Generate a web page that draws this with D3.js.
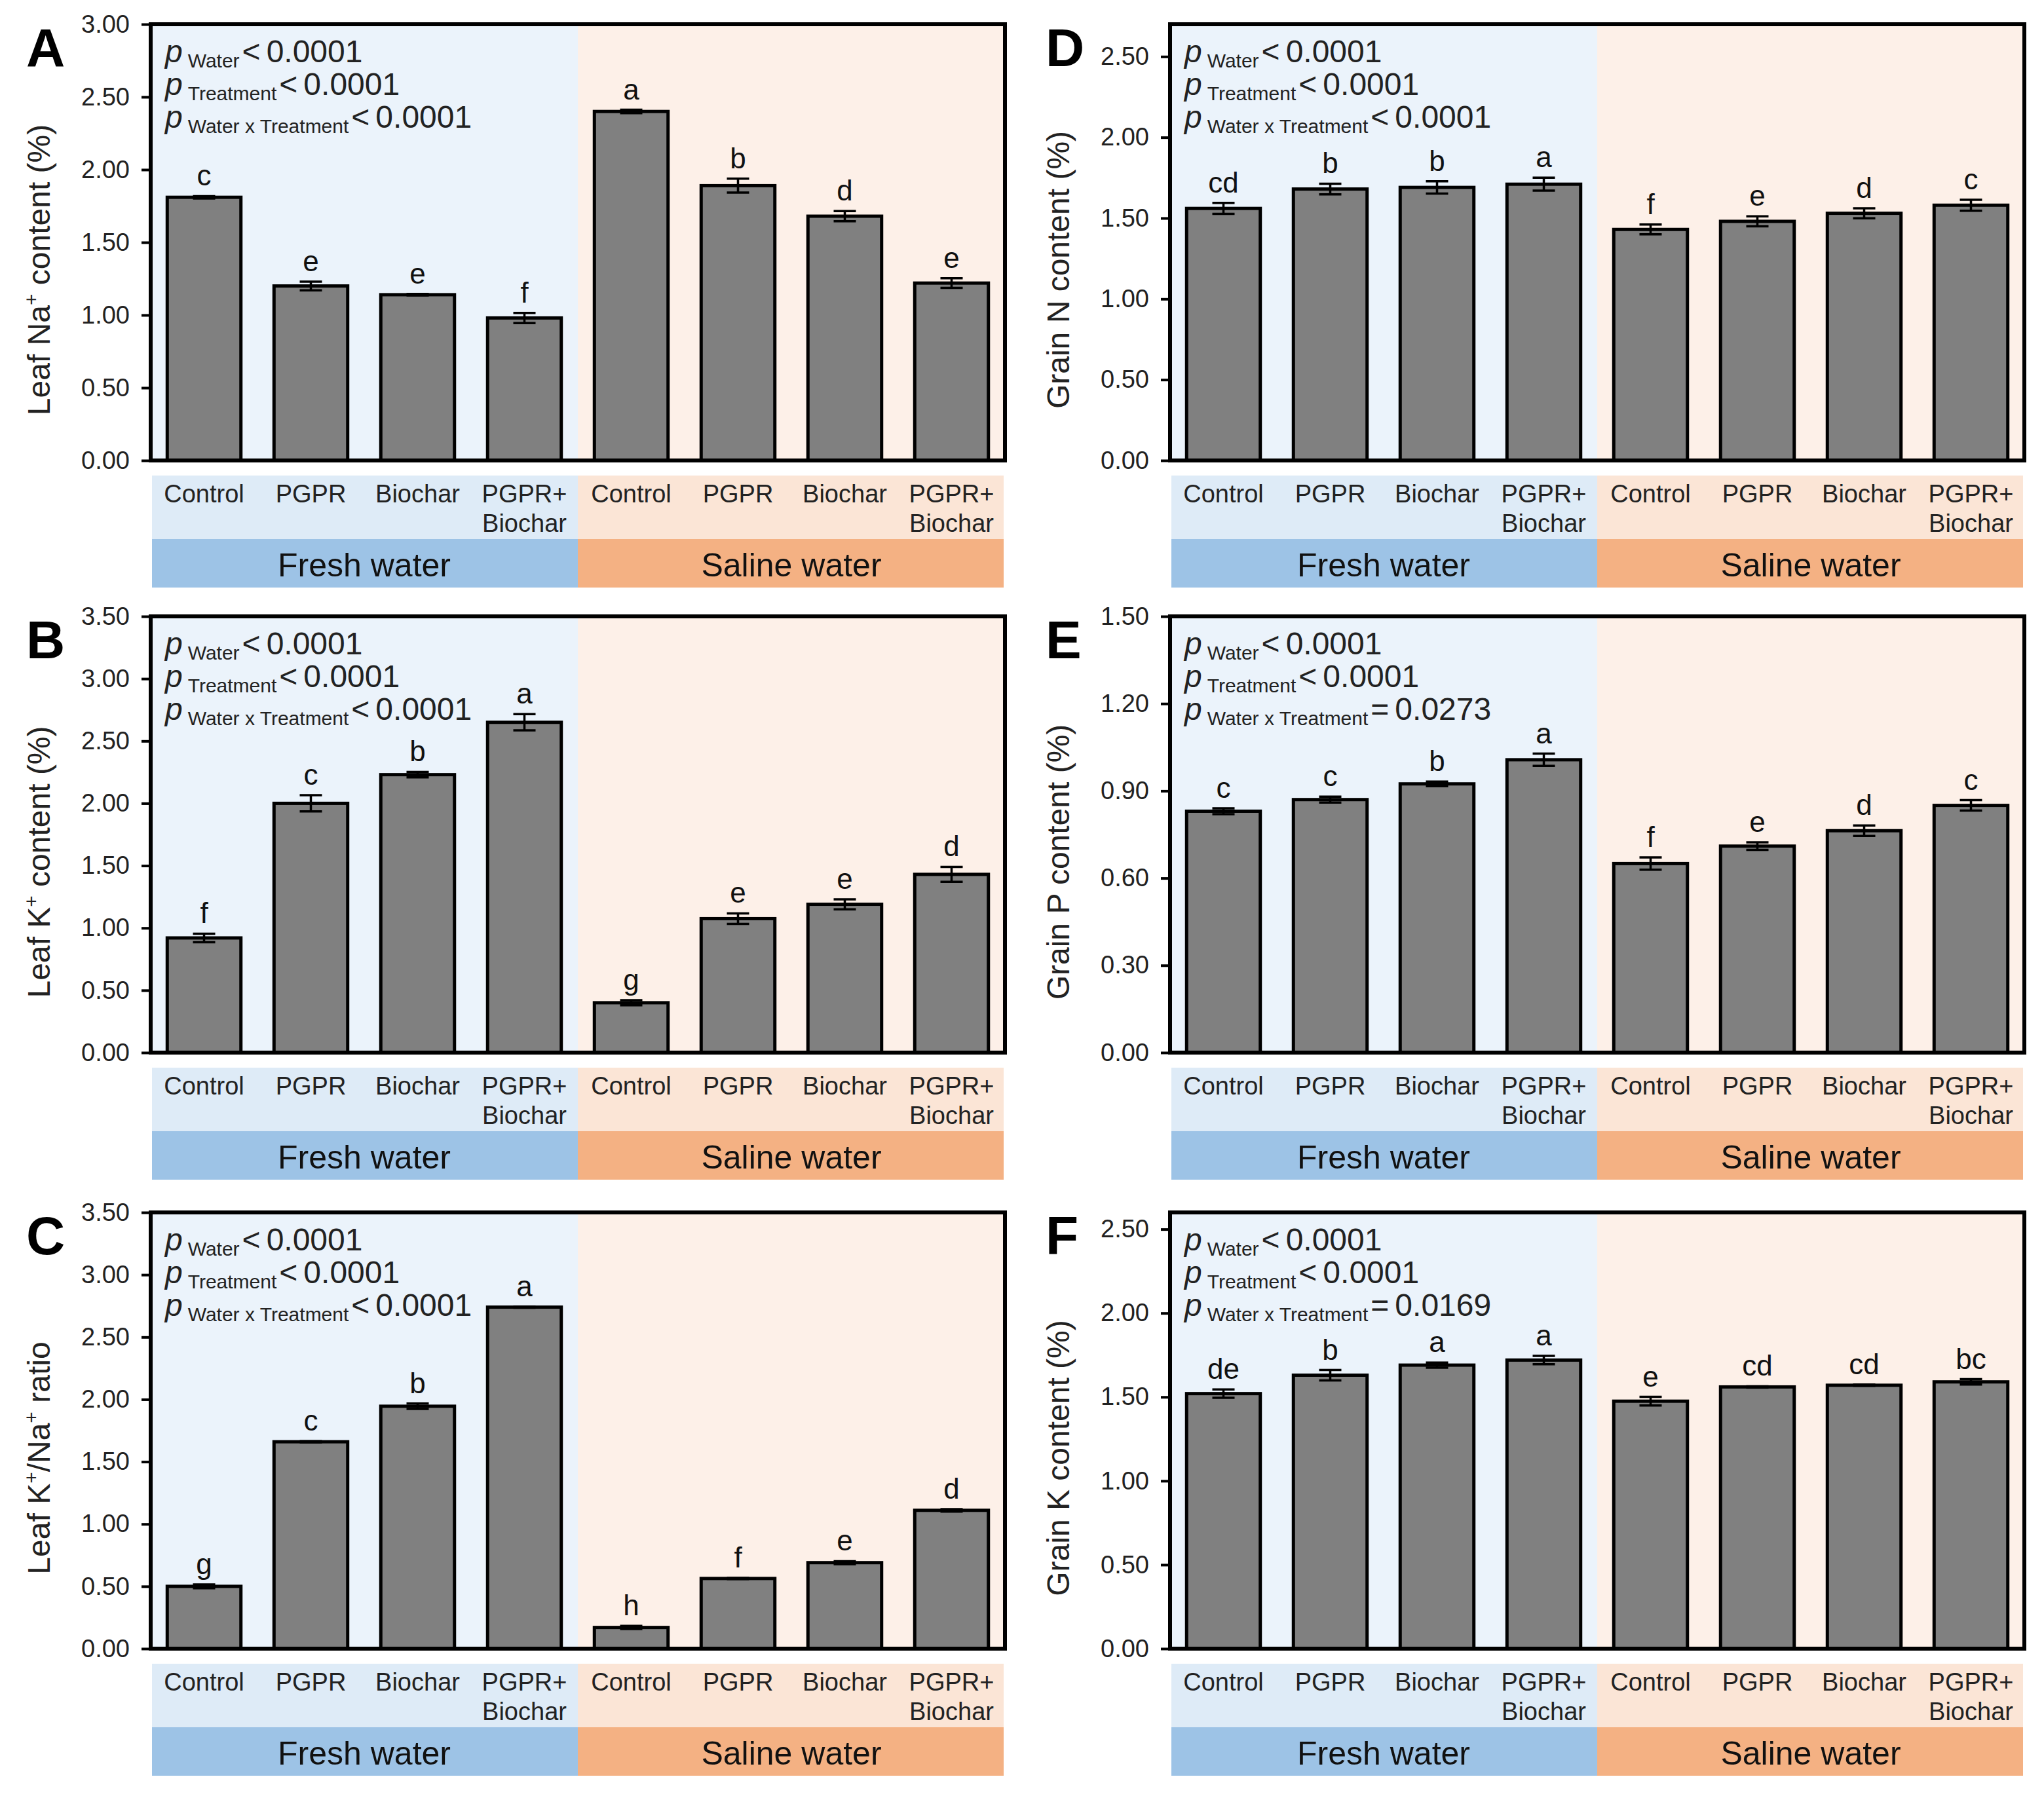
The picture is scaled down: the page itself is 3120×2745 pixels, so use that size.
<!DOCTYPE html>
<html><head><meta charset="utf-8">
<script src="https://cdn.jsdelivr.net/npm/d3@7/dist/d3.min.js"></script>
<style>body{margin:0;background:#fff} svg{display:block}</style>
</head><body>
<svg id="chart" width="3120" height="2745"></svg>
<script>
// ---------- data ----------
const treatments = ["Control", "PGPR", "Biochar", "PGPR+Biochar"];
const waterTypes = ["Fresh water", "Saline water"];
const barKeys = ["F-Control", "F-PGPR", "F-Biochar", "F-PGPR+Biochar",
                 "S-Control", "S-PGPR", "S-Biochar", "S-PGPR+Biochar"];

const leafNaValues  = [1.81, 1.20, 1.14, 0.98, 2.40, 1.89, 1.68, 1.22];
const leafNaErrors  = [0.008, 0.03, 0.005, 0.035, 0.012, 0.048, 0.035, 0.033];
const leafNaLetters = ["c", "e", "e", "f", "a", "b", "d", "e"];
const leafNaTicks   = [0, 0.5, 1.0, 1.5, 2.0, 2.5, 3.0];

const leafKValues  = [0.92, 2.00, 2.23, 2.65, 0.40, 1.075, 1.19, 1.43];
const leafKErrors  = [0.034, 0.065, 0.022, 0.065, 0.02, 0.042, 0.04, 0.06];
const leafKLetters = ["f", "c", "b", "a", "g", "e", "e", "d"];
const leafKTicks   = [0, 0.5, 1.0, 1.5, 2.0, 2.5, 3.0, 3.5];

const ratioValues  = [0.50, 1.66, 1.945, 2.74, 0.17, 0.563, 0.69, 1.11];
const ratioErrors  = [0.015, 0.004, 0.022, 0.004, 0.012, 0.004, 0.012, 0.01];
const ratioLetters = ["g", "c", "b", "a", "h", "f", "e", "d"];
const ratioTicks   = [0, 0.5, 1.0, 1.5, 2.0, 2.5, 3.0, 3.5];

const grainNValues  = [1.56, 1.68, 1.69, 1.71, 1.43, 1.48, 1.53, 1.58];
const grainNErrors  = [0.034, 0.033, 0.038, 0.04, 0.03, 0.031, 0.031, 0.034];
const grainNLetters = ["cd", "b", "b", "a", "f", "e", "d", "c"];
const grainNTicks   = [0, 0.5, 1.0, 1.5, 2.0, 2.5];

const grainPValues  = [0.83, 0.87, 0.924, 1.007, 0.65, 0.71, 0.763, 0.85];
const grainPErrors  = [0.01, 0.01, 0.008, 0.021, 0.021, 0.013, 0.018, 0.018];
const grainPLetters = ["c", "c", "b", "a", "f", "e", "d", "c"];
const grainPTicks   = [0, 0.3, 0.6, 0.9, 1.2, 1.5];

const grainKValues  = [1.52, 1.63, 1.69, 1.72, 1.475, 1.56, 1.57, 1.59];
const grainKErrors  = [0.025, 0.031, 0.015, 0.025, 0.026, 0.004, 0.004, 0.016];
const grainKLetters = ["de", "b", "a", "a", "e", "cd", "cd", "bc"];
const grainKTicks   = [0, 0.5, 1.0, 1.5, 2.0, 2.5];

const pLabels = ["Water", "Treatment", "Water x Treatment"];
const pLeafNa = ["< 0.0001", "< 0.0001", "< 0.0001"];
const pLeafK  = ["< 0.0001", "< 0.0001", "< 0.0001"];
const pRatio  = ["< 0.0001", "< 0.0001", "< 0.0001"];
const pGrainN = ["< 0.0001", "< 0.0001", "< 0.0001"];
const pGrainP = ["< 0.0001", "< 0.0001", "= 0.0273"];
const pGrainK = ["< 0.0001", "< 0.0001", "= 0.0169"];

const panels = [
  {id: "A", col: 0, row: 0, title: [["Leaf Na"], ["+", "sup"], [" content (%)"]], max: 3.0, ticks: leafNaTicks, values: leafNaValues, errors: leafNaErrors, letters: leafNaLetters, p: pLeafNa},
  {id: "B", col: 0, row: 1, title: [["Leaf K"], ["+", "sup"], [" content (%)"]], max: 3.5, ticks: leafKTicks, values: leafKValues, errors: leafKErrors, letters: leafKLetters, p: pLeafK},
  {id: "C", col: 0, row: 2, title: [["Leaf K"], ["+", "sup"], ["/Na"], ["+", "sup"], [" ratio"]], max: 3.5, ticks: ratioTicks, values: ratioValues, errors: ratioErrors, letters: ratioLetters, p: pRatio},
  {id: "D", col: 1, row: 0, title: [["Grain N content (%)"]], max: 2.7, ticks: grainNTicks, values: grainNValues, errors: grainNErrors, letters: grainNLetters, p: pGrainN},
  {id: "E", col: 1, row: 1, title: [["Grain P content (%)"]], max: 1.5, ticks: grainPTicks, values: grainPValues, errors: grainPErrors, letters: grainPLetters, p: pGrainP},
  {id: "F", col: 1, row: 2, title: [["Grain K content (%)"]], max: 2.6, ticks: grainKTicks, values: grainKValues, errors: grainKErrors, letters: grainKLetters, p: pGrainK}
];

// ---------- layout & style ----------
const FONT = "'Liberation Sans', Arial, Helvetica, sans-serif";
const colX = [230, 1786];
const rowTop = [37, 941, 1851];
const plotW = 1304, plotH = 666;
const C = {
  freshBg: "#EBF3FB", salineBg: "#FDF0E8",
  freshBand: "#DEEBF7", salineBand: "#FBE5D6",
  freshGroup: "#9DC3E6", salineGroup: "#F4B183",
  bar: "#808080"
};

const svg = d3.select("#chart");
svg.append("rect").attr("width", 3120).attr("height", 2745).attr("fill", "#fff");

panels.forEach(P => {
  const g = svg.append("g").attr("transform", `translate(${colX[P.col]},${rowTop[P.row]})`)
    .style("font-family", FONT);
  const x = d3.scaleBand().domain(barKeys).range([0, plotW]).paddingInner(0.31).paddingOuter(0.155);
  const y = d3.scaleLinear().domain([0, P.max]).range([plotH, 0]);
  const split = (x(barKeys[3]) + x.bandwidth() + x(barKeys[4])) / 2;

  // plot backgrounds
  g.append("rect").attr("x", 0).attr("y", 0).attr("width", split).attr("height", plotH).attr("fill", C.freshBg);
  g.append("rect").attr("x", split).attr("y", 0).attr("width", plotW - split).attr("height", plotH).attr("fill", C.salineBg);

  // category bands
  const bandTop = plotH + 23, bandMid = plotH + 120, bandBot = plotH + 194;
  g.append("rect").attr("x", 2).attr("y", bandTop).attr("width", split - 2).attr("height", bandMid - bandTop).attr("fill", C.freshBand);
  g.append("rect").attr("x", split).attr("y", bandTop).attr("width", plotW - split - 2).attr("height", bandMid - bandTop).attr("fill", C.salineBand);
  g.append("rect").attr("x", 2).attr("y", bandMid).attr("width", split - 2).attr("height", bandBot - bandMid).attr("fill", C.freshGroup);
  g.append("rect").attr("x", split).attr("y", bandMid).attr("width", plotW - split - 2).attr("height", bandBot - bandMid).attr("fill", C.salineGroup);

  // category labels
  barKeys.forEach((k, i) => {
    const t = treatments[i % 4];
    const cx = x(k) + x.bandwidth() / 2;
    const lines = t === "PGPR+Biochar" ? ["PGPR+", "Biochar"] : [t];
    lines.forEach((ln, j) => {
      g.append("text").attr("x", cx).attr("y", plotH + 64 + j * 45)
        .attr("text-anchor", "middle").attr("font-size", 38).attr("fill", "#222").text(ln);
    });
  });
  // group labels
  [[0, split], [split, plotW]].forEach((r, i) => {
    g.append("text").attr("x", (r[0] + r[1]) / 2).attr("y", plotH + 177)
      .attr("text-anchor", "middle").attr("font-size", 50).attr("fill", "#111").text(waterTypes[i]);
  });

  // bars
  g.selectAll("rect.bar").data(P.values).join("rect").attr("class", "bar")
    .attr("x", (d, i) => x(barKeys[i])).attr("y", d => y(d))
    .attr("width", x.bandwidth()).attr("height", d => plotH - y(d))
    .attr("fill", C.bar).attr("stroke", "#000").attr("stroke-width", 5);

  // error bars
  P.values.forEach((v, i) => {
    const cx = x(barKeys[i]) + x.bandwidth() / 2;
    const e = P.errors[i];
    const eg = g.append("g").attr("stroke", "#000").attr("stroke-width", 3.5);
    eg.append("line").attr("x1", cx).attr("x2", cx).attr("y1", y(v - e)).attr("y2", y(v + e));
    eg.append("line").attr("x1", cx - 17).attr("x2", cx + 17).attr("y1", y(v - e)).attr("y2", y(v - e));
    eg.append("line").attr("x1", cx - 17).attr("x2", cx + 17).attr("y1", y(v + e)).attr("y2", y(v + e));
    g.append("text").attr("x", cx).attr("y", y(v + e) - 16).attr("text-anchor", "middle")
      .attr("font-size", 44).attr("fill", "#111").text(P.letters[i]);
  });

  // y axis
  const ax = g.append("g").call(d3.axisLeft(y).tickValues(P.ticks).tickFormat(d3.format(".2f")).tickSize(14).tickPadding(18));
  ax.select(".domain").remove();
  ax.selectAll(".tick line").attr("stroke", "#000").attr("stroke-width", 4);
  ax.selectAll(".tick text").attr("font-size", 38).attr("font-family", FONT).attr("fill", "#222");

  // frame
  g.append("rect").attr("x", 0).attr("y", 0).attr("width", plotW).attr("height", plotH)
    .attr("fill", "none").attr("stroke", "#000").attr("stroke-width", 6);

  // p-values
  P.p.forEach((txt, i) => {
    const t = g.append("text").attr("x", 22).attr("y", 58 + i * 50).attr("font-size", 48).attr("fill", "#222");
    t.append("tspan").attr("font-style", "italic").text("p");
    t.append("tspan").attr("font-size", 30).attr("dx", 8).attr("dy", 8).text(pLabels[i]);
    t.append("tspan").attr("dx", 4).attr("dy", -8).text(txt.slice(0, 1));
    t.append("tspan").attr("dx", 9).text(txt.slice(2));
  });

  // y title
  const tt = g.append("text").attr("transform", `translate(-154,375) rotate(-90)`)
    .attr("text-anchor", "middle").attr("font-size", 48).attr("fill", "#222");
  let sup = false;
  P.title.forEach(part => {
    const s = tt.append("tspan").text(part[0]);
    if (part[1] === "sup") { s.attr("font-size", 30).attr("dy", -18); sup = true; }
    else if (sup) { s.attr("dy", 18); sup = false; }
  });

  // panel letter
  g.append("text").attr("x", -190).attr("y", 64).attr("font-size", 82).attr("font-weight", "bold")
    .attr("fill", "#000").text(P.id);
});
</script>
</body></html>
